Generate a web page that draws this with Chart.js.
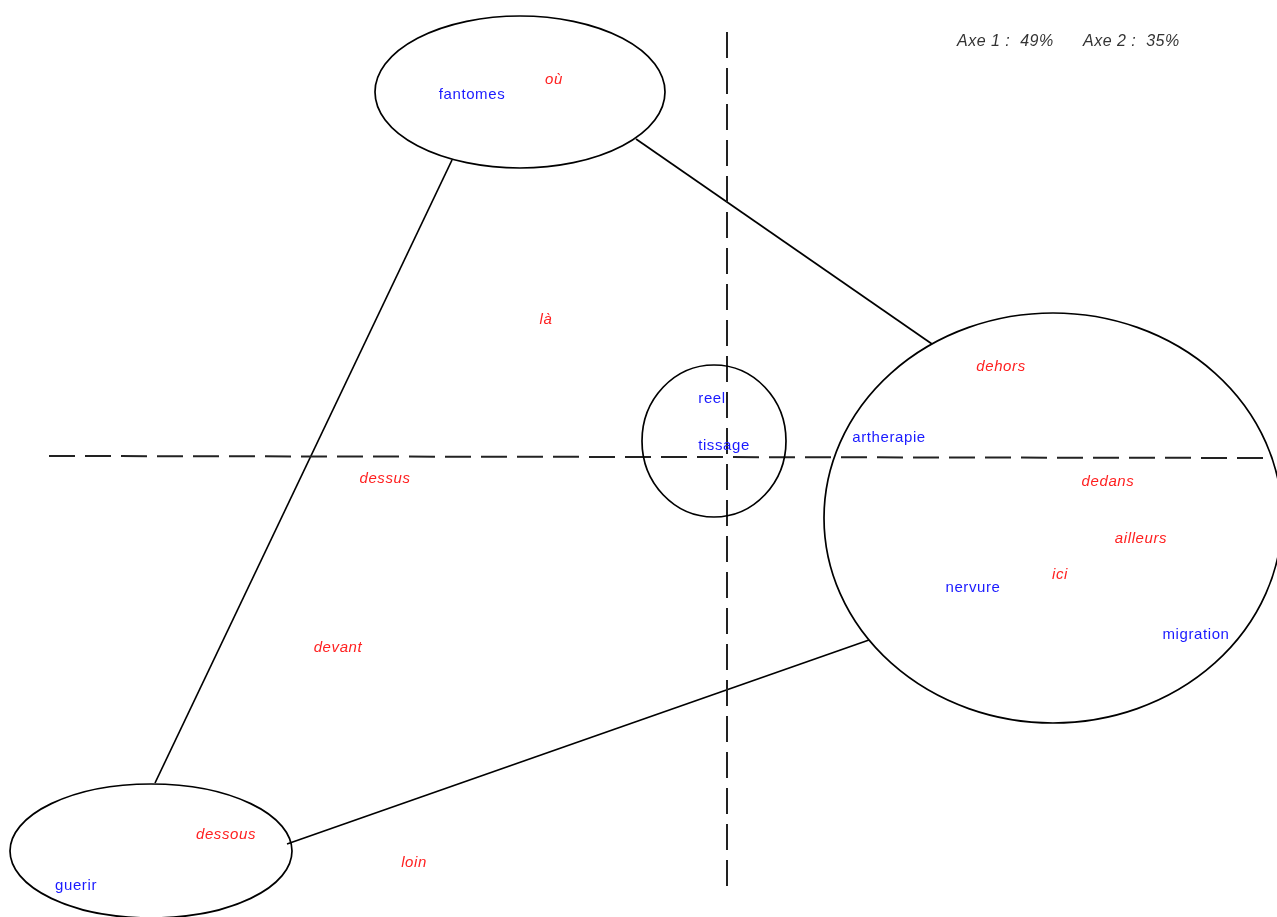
<!DOCTYPE html>
<html>
<head>
<meta charset="utf-8">
<script src="https://cdn.jsdelivr.net/npm/chart.js@4"></script>
<style>
  body { margin: 0; background: #fff; }
  #wrap { width: 1277px; height: 917px; position: relative; }
</style>
</head>
<body>
<div id="wrap"><canvas id="afc"></canvas></div>
<script>
// row terms (blue) and column terms (red), coordinates on axes 1 and 2
const rowLabels = ['fantomes', 'reel', 'tissage', 'artherapie', 'nervure', 'migration', 'guerir'];
const rowX = [-2.55, -0.15, -0.03, 1.62, 2.46, 4.69, -6.51];
const rowY = [3.62, 0.58, 0.11, 0.19, -1.31, -1.78, -4.29];

const colLabels = ['où', 'là', 'dehors', 'dedans', 'ailleurs', 'ici', 'dessus', 'devant', 'dessous', 'loin'];
const colX = [-1.73, -1.81, 2.74, 3.81, 4.14, 3.33, -3.42, -3.89, -5.01, -3.13];
const colY = [3.77, 1.37, 0.90, -0.25, -0.82, -1.18, -0.22, -1.91, -3.78, -4.06];

// groups: centre and radii of each ellipse
const groupCx = [-2.07, -0.13, 3.26, -5.76];
const groupCy = [3.65, 0.16, -0.61, -3.94];
const groupRx = [1.45, 0.72, 2.29, 1.41];
const groupRy = [0.76, 0.76, 2.05, 0.67];

// links between groups
const links = [
  [[-2.75, 2.97], [-5.72, -3.26]],
  [[-0.91, 3.18], [2.05, 1.13]],
  [[1.42, -1.83], [-4.40, -3.87]]
];

const axisPct = [49, 35];

const ellipsePlugin = {
  id: 'ellipses',
  afterDatasetsDraw(chart) {
    const { ctx, scales: { x, y } } = chart;
    ctx.save();
    ctx.strokeStyle = '#000';
    ctx.lineWidth = 1.7;
    for (let i = 0; i < groupCx.length; i++) {
      const cx = x.getPixelForValue(groupCx[i]);
      const cy = y.getPixelForValue(groupCy[i]);
      const rx = Math.abs(x.getPixelForValue(groupCx[i] + groupRx[i]) - cx);
      const ry = Math.abs(y.getPixelForValue(groupCy[i] + groupRy[i]) - cy);
      ctx.beginPath();
      ctx.ellipse(cx, cy, rx, ry, 0, 0, Math.PI * 2);
      ctx.stroke();
    }
    ctx.restore();
  }
};

const labelPlugin = {
  id: 'labels',
  afterDatasetsDraw(chart) {
    const { ctx, scales: { x, y } } = chart;
    ctx.save();
    ctx.textAlign = 'center';
    ctx.textBaseline = 'middle';
    ctx.letterSpacing = '0.6px';
    ctx.font = '15px "Liberation Sans", Arial, sans-serif';
    ctx.fillStyle = '#1a1aff';
    rowLabels.forEach((t, i) => {
      ctx.fillText(t, x.getPixelForValue(rowX[i]), y.getPixelForValue(rowY[i]));
    });
    ctx.font = 'italic 15px "Liberation Sans", Arial, sans-serif';
    ctx.fillStyle = '#ff2020';
    colLabels.forEach((t, i) => {
      ctx.fillText(t, x.getPixelForValue(colX[i]), y.getPixelForValue(colY[i]));
    });
    // inertia of the axes
    ctx.font = 'italic 16px "Liberation Sans", Arial, sans-serif';
    ctx.fillStyle = '#333';
    ctx.textAlign = 'left';
    ctx.letterSpacing = '0.5px';
    ctx.fillText('Axe 1 :  ' + axisPct[0] + '%', 957, 42);
    ctx.fillText('Axe 2 :  ' + axisPct[1] + '%', 1083, 42);
    ctx.restore();
  }
};

const linkSets = links.map(l => ({
  data: l.map(p => ({ x: p[0], y: p[1] })),
  showLine: true,
  borderColor: '#000',
  borderWidth: 1.7,
  pointRadius: 0
}));

new Chart(document.getElementById('afc'), {
  type: 'scatter',
  data: {
    datasets: [
      {
        data: [{ x: 0, y: 4.25 }, { x: 0, y: -4.35 }],
        showLine: true, borderColor: '#222', borderWidth: 2,
        borderDash: [26, 10], pointRadius: 0
      },
      {
        data: [{ x: -6.78, y: 0.01 }, { x: 5.43, y: -0.01 }],
        showLine: true, borderColor: '#222', borderWidth: 2,
        borderDash: [26, 10], pointRadius: 0
      },
      ...linkSets
    ]
  },
  options: {
    responsive: true,
    maintainAspectRatio: false,
    animation: false,
    layout: { padding: 0 },
    plugins: { legend: { display: false }, tooltip: { enabled: false } },
    scales: {
      x: { type: 'linear', min: -7.27, max: 5.50, display: false },
      y: { type: 'linear', min: -4.60, max: 4.57, display: false }
    }
  },
  plugins: [ellipsePlugin, labelPlugin]
});
</script>
</body>
</html>
